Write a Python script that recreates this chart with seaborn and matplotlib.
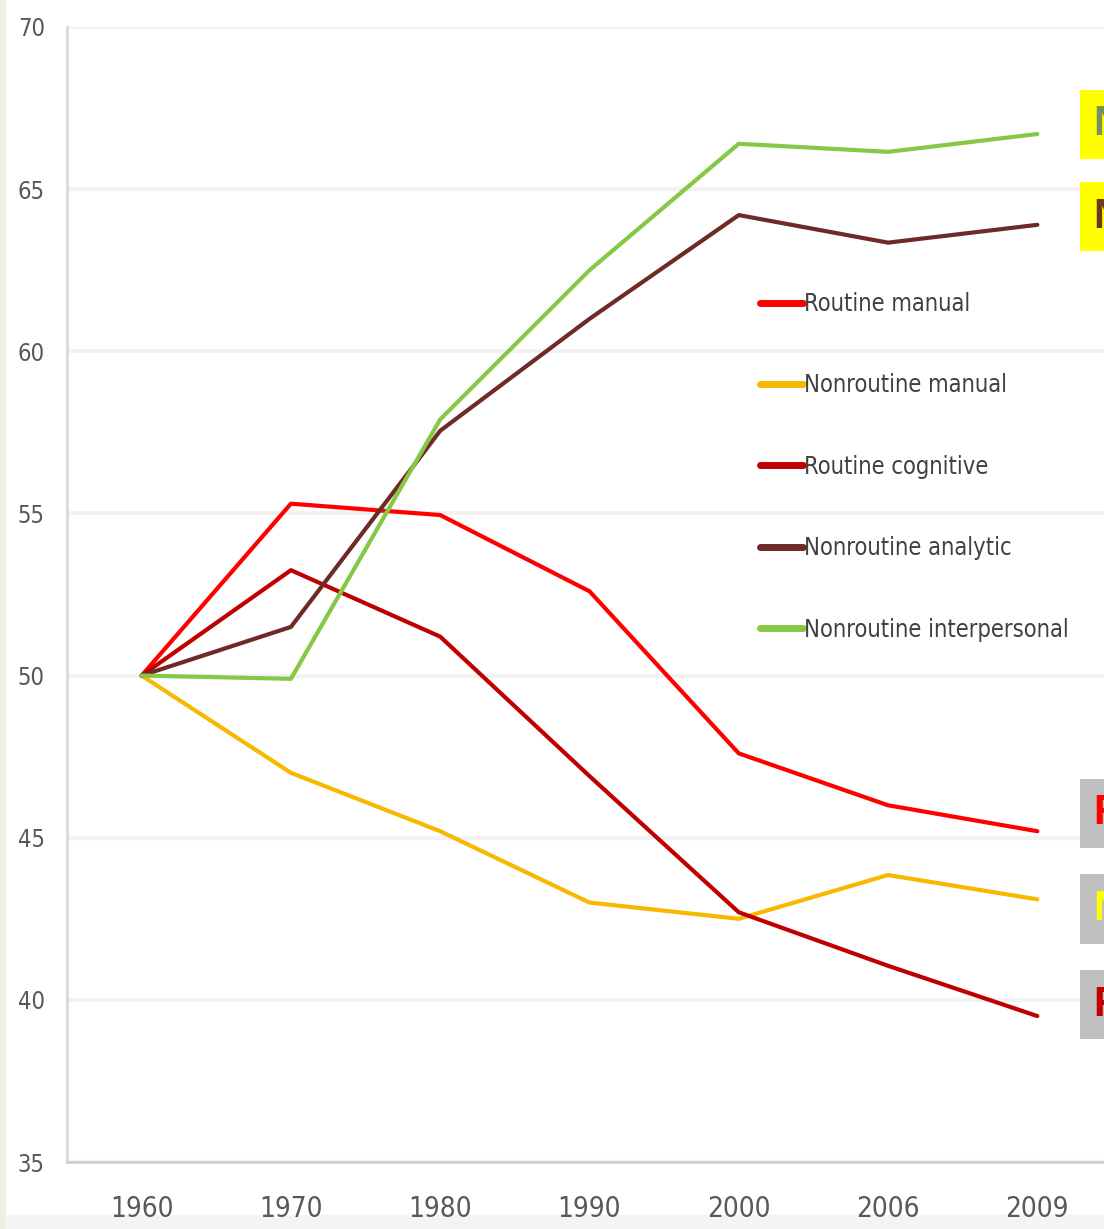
import numpy as np
import pandas as pd
import matplotlib.pyplot as plt
import seaborn as sns
from matplotlib.patches import Rectangle

years = ['1960', '1970', '1980', '1990', '2000', '2006', '2009']
series_names = ['Routine manual', 'Nonroutine manual', 'Routine cognitive',
                'Nonroutine analytic', 'Nonroutine interpersonal']
routine_manual = [50, 55.3, 54.95, 52.6, 47.6, 46.0, 45.2]
nonroutine_manual = [50, 47.0, 45.2, 43.0, 42.5, 43.85, 43.1]
routine_cognitive = [50, 53.25, 51.2, 46.9, 42.7, 41.05, 39.5]
nonroutine_analytic = [50, 51.5, 57.55, 61.0, 64.2, 63.35, 63.9]
nonroutine_interpersonal = [50, 49.9, 57.9, 62.5, 66.4, 66.15, 66.7]
y_ticks = [35, 40, 45, 50, 55, 60, 65, 70]

colors = ['#ff0000', '#f7b800', '#c00000', '#6e2a27', '#84c845']

sns.set_style('white')
plt.rcParams['font.family'] = ['DejaVu Sans']
plt.rcParams['font.stretch'] = 'condensed'

data = pd.DataFrame({
    'year': years * 5,
    'value': routine_manual + nonroutine_manual + routine_cognitive
             + nonroutine_analytic + nonroutine_interpersonal,
    'series': [n for n in series_names for _ in years],
})

fig = plt.figure(figsize=(11.04, 12.29), dpi=100)
# background strips from the screenshot
fig.add_artist(Rectangle((0, 0), 5 / 1104, 1, transform=fig.transFigure,
                         color='#eef1e2', zorder=0))
fig.add_artist(Rectangle((5 / 1104, 0), 1, 14 / 1229, transform=fig.transFigure,
                         color='#f4f4f4', zorder=0))

ax = fig.add_axes([67 / 1104, 67 / 1229, 1045 / 1104, 1135 / 1229])
ax.set_facecolor('none')

sns.lineplot(data=data, x='year', y='value', hue='series', hue_order=series_names,
             palette=colors, linewidth=3, sort=False, ax=ax, legend=False)

ax.set_xlim(-0.5, 6.5)
ax.set_ylim(35, 70)
ax.set_yticks(y_ticks)
ax.set_xlabel('')
ax.set_ylabel('')
ax.grid(axis='y', color='#f2f2f2', linewidth=3)
ax.set_axisbelow(True)

for s in ['top', 'right']:
    ax.spines[s].set_visible(False)
ax.spines['left'].set_color('#d9d9d9')
ax.spines['left'].set_linewidth(2)
ax.spines['bottom'].set_color('#cfcfcf')
ax.spines['bottom'].set_linewidth(2)

ax.tick_params(axis='y', length=8, width=1.5, color='#d0d0d0', labelsize=17,
               labelcolor='#595959', pad=8)
ax.tick_params(axis='x', which='major', length=0, labelsize=20,
               labelcolor='#595959', pad=24)
ax.set_xticks(np.arange(-0.5, 7, 1), minor=True)
ax.tick_params(axis='x', which='minor', length=8, width=1.5, color='#d0d0d0')

handles = [plt.Line2D([], [], color=c, linewidth=5) for c in colors]
ax.legend(handles, series_names, loc='upper left',
          bbox_to_anchor=(760 / 1104, 1 - 292 / 1229), bbox_transform=fig.transFigure,
          frameon=False, fontsize=17, handlelength=1.8, handletextpad=0.05,
          labelspacing=2.43, borderpad=0, borderaxespad=0, labelcolor='#404040')

# cut-off end labels at the right edge
label_text = ['Nonroutine interpersonal', 'Nonroutine analytic', 'Routine manual',
              'Nonroutine manual', 'Routine cognitive']
label_y = [67.0, 64.15, 45.75, 42.8, 39.85]
label_fc = ['#ffff00', '#ffff00', '#bfbfbf', '#bfbfbf', '#bfbfbf']
label_tc = ['#76905f', '#6b3a1c', '#ff0000', '#ffff00', '#c00000']
for t, y, fc, tc in zip(label_text, label_y, label_fc, label_tc):
    ax.text(6.38, y, t, fontsize=30, fontweight='bold', color=tc, va='center',
            ha='left', family=['Liberation Sans', 'DejaVu Sans'], stretch='normal',
            clip_on=False, bbox=dict(boxstyle='square,pad=0.35', fc=fc, ec='none'))

fig.savefig('out.png', dpi=100)
